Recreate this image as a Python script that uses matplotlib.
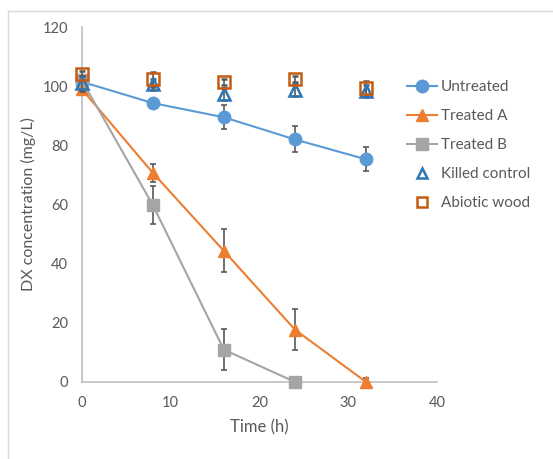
import matplotlib
matplotlib.use("Agg")
import matplotlib.pyplot as plt
from matplotlib.lines import Line2D

plt.rcParams["font.family"] = ["Lato", "DejaVu Sans"]

time_h = [0, 8, 16, 24, 32]

untreated = [101.5, 94.3, 89.5, 82.0, 75.3]
untreated_err = [1.5, 1.0, 4.0, 4.4, 4.0]

treated_a = [99.0, 70.7, 44.3, 17.7, 0.0]
treated_a_err = [1.5, 3.0, 7.3, 7.0, 1.2]

time_b = [0, 8, 16, 24]
treated_b = [102.0, 59.8, 10.9, 0.0]
treated_b_err = [1.5, 6.5, 7.0, 0.5]

killed = [101.0, 100.6, 97.3, 98.7, 98.3]
killed_err = [2.5, 2.0, 2.0, 2.0, 2.0]

abiotic = [104.3, 102.4, 101.5, 102.4, 99.3]
abiotic_err = [1.0, 2.5, 1.0, 1.0, 2.5]

BLUE = "#5b9bd5"
ORANGE = "#ed7d31"
GREY = "#a5a5a5"
DKBLUE = "#2e75b6"
BROWN = "#c55a11"
TXT = "#595959"
ERR = "#595959"

fig = plt.figure(figsize=(5.53, 4.59), dpi=100)
ax = fig.add_axes((0.148, 0.168, 0.642, 0.773))

eb = dict(ecolor=ERR, elinewidth=1.2, capsize=2.5, capthick=1.2)
series = [
    (time_h, untreated, untreated_err, dict(color=BLUE, lw=1.5, marker="o", ms=9), "Untreated", 3),
    (time_h, treated_a, treated_a_err, dict(color=ORANGE, lw=1.5, marker="^", ms=9), "Treated A", 3),
    (time_b, treated_b, treated_b_err, dict(color=GREY, lw=1.5, marker="s", ms=8.5), "Treated B", 3),
    (time_h, killed, killed_err, dict(color=DKBLUE, ls="none", marker="^", ms=8, mfc="none", mew=1.8), "Killed control", 4),
    (time_h, abiotic, abiotic_err, dict(color=BROWN, ls="none", marker="s", ms=8.5, mfc="none", mew=1.8), "Abiotic wood", 4),
]
for x, y, e, st, lab, z in series:
    cont = ax.errorbar(x, y, yerr=e, label=lab, zorder=z, **st, **eb)
    for art in cont.get_children():
        art.set_clip_on(False)

ax.set_xlim(0, 40)
ax.set_ylim(0, 120)
ax.set_xticks(range(0, 41, 10))
ax.set_yticks(range(0, 121, 20))
for s in ("top", "right"):
    ax.spines[s].set_visible(False)
for s in ("left", "bottom"):
    ax.spines[s].set_color("#bfbfbf")
    ax.spines[s].set_linewidth(1.2)
    ax.spines[s].set_zorder(1)
ax.tick_params(length=0, labelsize=10.5, labelcolor=TXT, pad=10)
ax.set_xlabel("Time (h)", fontsize=12, color=TXT)
ax.set_ylabel("DX concentration (mg/L)", fontsize=11.5, color=TXT)
ax.xaxis.set_label_coords(0.5, -0.105)
ax.yaxis.set_label_coords(-0.13, 0.5)

handles = [
    Line2D([], [], color=BLUE, lw=1.5, marker="o", ms=9),
    Line2D([], [], color=ORANGE, lw=1.5, marker="^", ms=9),
    Line2D([], [], color=GREY, lw=1.5, marker="s", ms=8.5),
    Line2D([], [], color=DKBLUE, ls="none", marker="^", ms=7, mfc="none", mew=1.8),
    Line2D([], [], color=BROWN, ls="none", marker="s", ms=7, mfc="none", mew=1.8),
]
labels = ["Untreated", "Treated A", "Treated B", "Killed control", "Abiotic wood"]
leg = fig.legend(handles, labels, loc="upper left", bbox_to_anchor=(0.712, 0.855),
                 frameon=False, fontsize=11, labelspacing=0.98, handlelength=1.9,
                 handletextpad=0.3)
for t in leg.get_texts():
    t.set_color(TXT)

# outer frame lines (top and left only)
fig.add_artist(Line2D([8 / 553, 1], [1 - 11 / 459] * 2, color="#d9d9d9", lw=1))
fig.add_artist(Line2D([8 / 553] * 2, [0, 1 - 11 / 459], color="#d9d9d9", lw=1))

fig.savefig("out.png", facecolor="white")
